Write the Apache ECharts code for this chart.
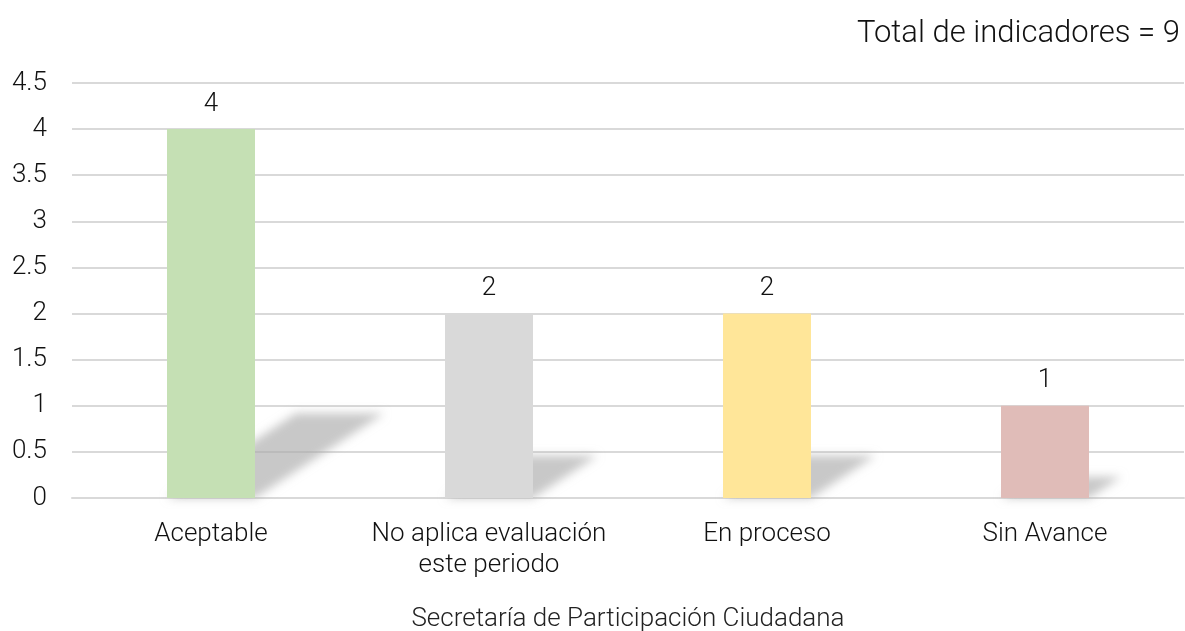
<!DOCTYPE html>
<html>
<head>
<meta charset="utf-8">
<style>
  html, body { margin: 0; padding: 0; background: #fff; }
  #chart { width: 1185px; height: 631px; }
</style>
<script src="https://cdn.jsdelivr.net/npm/echarts@6/dist/echarts.min.js"></script>
</head>
<body>
<div id="chart"></div>
<script>
// datos
const categories = ["Aceptable", "No aplica evaluación\neste periodo", "En proceso", "Sin Avance"];
const values = [4, 2, 2, 1];
const barColors = ["#c5e0b4", "#d9d9d9", "#ffe699", "#e0bcb8"];
const titleText = "Total de indicadores = 9";
const axisName = "Secretaría de Participación Ciudadana";

const font = "Roboto";
const chart = echarts.init(document.getElementById("chart"));

// sombra en perspectiva detrás de cada barra
// (la forma se dibuja fuera de la vista y sólo se ve su sombra difuminada)
const OFF = 3000;
function renderShadow(params, api) {
  const idx = api.value(0);
  const val = api.value(1);
  const base = api.coord([idx, 0]);
  const top = api.coord([idx, val]);
  const h = base[1] - top[1];
  const half = 44;
  const dx = h * 0.35, dy = h * 0.23;
  const x0 = base[0] - OFF;
  return {
    type: "polygon",
    shape: {
      points: [
        [x0 - half, base[1]],
        [x0 + half, base[1]],
        [x0 + half + dx, base[1] - dy],
        [x0 - half + dx, base[1] - dy]
      ]
    },
    style: {
      fill: "#000",
      shadowBlur: 10,
      shadowOffsetX: OFF,
      shadowColor: "rgba(170,170,170,0.65)"
    }
  };
}

const option = {
  animation: false,
  title: {
    text: titleText,
    right: 0,
    top: 14,
    textStyle: { fontFamily: font, fontWeight: 300, fontSize: 31, color: "#111" }
  },
  grid: { left: 72, right: 1, top: 83, bottom: 133, outerBoundsMode: "none" },
  xAxis: {
    type: "category",
    data: categories,
    name: axisName,
    nameLocation: "middle",
    nameGap: 108,
    nameTextStyle: { fontFamily: font, fontWeight: 300, fontSize: 26, color: "#222" },
    axisLine: { lineStyle: { color: "#d9d9d9", width: 2 } },
    axisTick: { show: false },
    axisLabel: {
      fontFamily: font, fontWeight: 300, fontSize: 26, color: "#111",
      margin: 21, lineHeight: 31, interval: 0
    }
  },
  yAxis: {
    type: "value",
    min: 0,
    max: 4.5,
    interval: 0.5,
    axisLine: { show: false },
    axisTick: { show: false },
    splitLine: { lineStyle: { color: "#d9d9d9", width: 2 } },
    axisLabel: { fontFamily: font, fontWeight: 300, fontSize: 26, color: "#111", margin: 25 }
  },
  series: [
    {
      type: "custom",
      renderItem: renderShadow,
      data: values.map((v, i) => [i, v]),
      clip: false,
      z: 1,
      silent: true
    },
    {
      type: "bar",
      data: values.map((v, i) => ({ value: v, itemStyle: { color: barColors[i] } })),
      barWidth: 88,
      z: 3,
      label: {
        show: true,
        position: "top",
        distance: 12,
        fontFamily: font, fontWeight: 300, fontSize: 26, color: "#111"
      }
    }
  ]
};

chart.setOption(option);
</script>
</body>
</html>
